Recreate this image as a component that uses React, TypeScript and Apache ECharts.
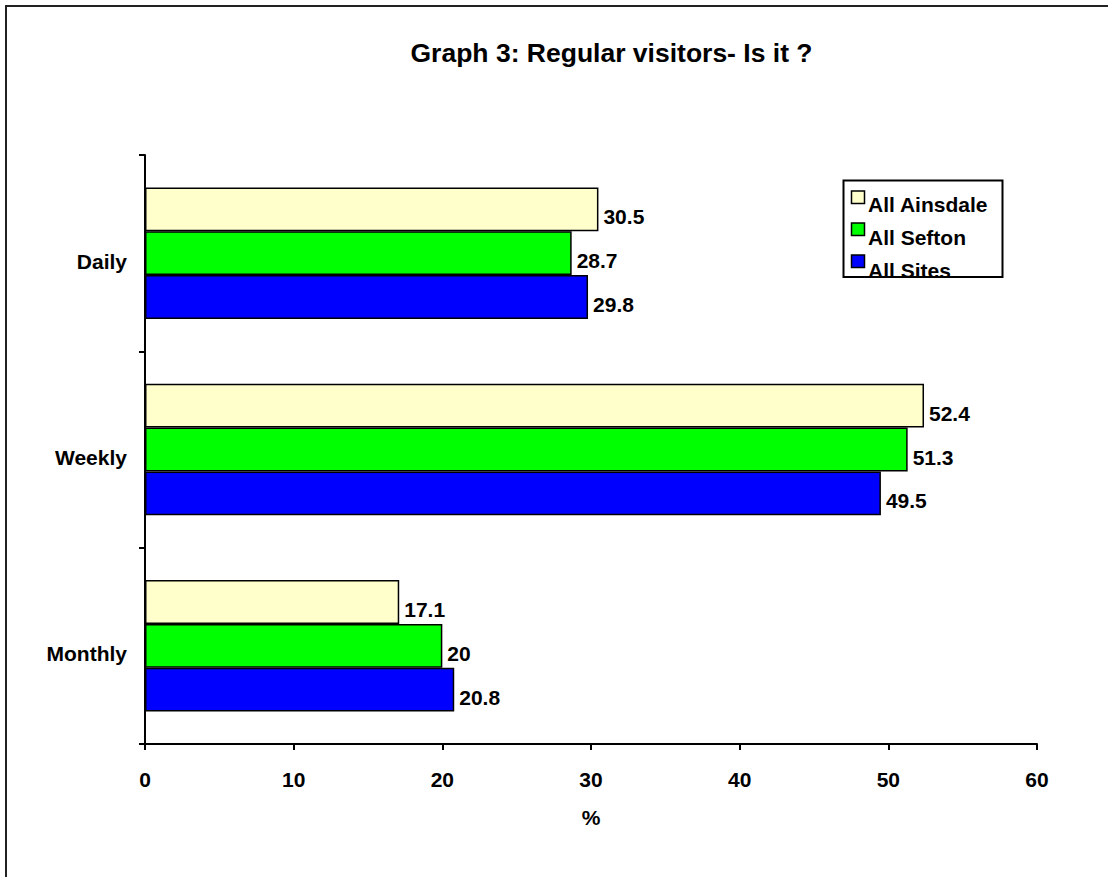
import React, { useEffect, useRef } from "react";
import * as echarts from "echarts";

const categories = ["Daily", "Weekly", "Monthly"];
const seriesNames = ["All Ainsdale", "All Sefton", "All Sites"];
const ainsdale = [30.5, 52.4, 17.1];
const sefton = [28.7, 51.3, 20];
const sites = [29.8, 49.5, 20.8];
const colors = ["#FFFFCC", "#00FF00", "#0000FF"];
const xTicks = { min: 0, max: 60, interval: 10 };
const titleText = "Graph 3: Regular visitors- Is it ?";
const xName = "%";

const FONT = "'Liberation Sans', Arial, sans-serif";

export default function App() {
  const ref = useRef<HTMLDivElement>(null);
  useEffect(() => {
    if (!ref.current) return;
    const chart = echarts.init(ref.current, undefined, { renderer: "svg" });
    const values = [ainsdale, sefton, sites];

    const legendX = 843.5;
    const legendY = 180.5;
    const legendW = 159;
    const legendH = 96.5;
    const legendItems: any[] = [];
    seriesNames.forEach((name, i) => {
      legendItems.push({
        type: "rect",
        shape: { x: legendX + 8, y: legendY + 10.5 + i * 32, width: 13, height: 12.5 },
        style: { fill: colors[i], stroke: "#000", lineWidth: 1.5 },
        z: 20,
      });
      legendItems.push({
        type: "text",
        x: legendX + 24.5,
        y: legendY + 34 + i * 33,
        style: {
          text: name,
          font: `bold 21px ${FONT}`,
          fill: "#000",
          textAlign: "left",
          textVerticalAlign: "bottom",
          verticalAlign: "bottom",
        },
        z: 20,
      });
    });

    chart.setOption({
      animation: false,
      backgroundColor: "#fff",
      textStyle: { fontFamily: FONT },
      legend: { show: false, data: seriesNames },
      graphic: [
        {
          type: "rect",
          shape: { x: 6, y: 6, width: 1200, height: 1000 },
          style: { fill: "none", stroke: "#222", lineWidth: 2 },
          silent: true,
          z: -10,
        },
        {
          type: "text",
          x: 611.5,
          y: 52.5,
          style: {
            text: titleText,
            font: `bold 26.5px ${FONT}`,
            fill: "#000",
            textAlign: "center",
            textVerticalAlign: "middle",
            verticalAlign: "middle",
          },
          z: 20,
        },
        {
          type: "rect",
          shape: { x: legendX, y: legendY, width: legendW, height: legendH },
          style: { fill: "#fff", stroke: "none" },
          z: 19,
        },
        ...legendItems,
        {
          type: "rect",
          shape: { x: legendX, y: legendY, width: legendW, height: legendH },
          style: { fill: "none", stroke: "#000", lineWidth: 2 },
          z: 21,
        },
      ],
      grid: { left: 145, right: 71, top: 155, bottom: 133, containLabel: false },
      xAxis: {
        type: "value",
        min: xTicks.min,
        max: xTicks.max,
        interval: xTicks.interval,
        name: xName,
        nameLocation: "middle",
        nameGap: 63,
        nameTextStyle: { fontFamily: FONT, fontWeight: "bold", fontSize: 21, color: "#000" },
        axisLine: { show: true, lineStyle: { color: "#000", width: 2 } },
        axisTick: { show: true, inside: false, length: 6, lineStyle: { color: "#000", width: 2 } },
        splitLine: { show: false },
        axisLabel: { fontFamily: FONT, fontWeight: "bold", fontSize: 21, color: "#000", margin: 25 },
      },
      yAxis: {
        type: "category",
        data: categories,
        inverse: true,
        axisLine: { show: true, lineStyle: { color: "#000", width: 2 } },
        axisTick: { show: true, inside: false, length: 6, lineStyle: { color: "#000", width: 2 } },
        splitLine: { show: false },
        axisLabel: {
          fontFamily: FONT,
          fontWeight: "bold",
          fontSize: 21,
          color: "#000",
          margin: 18,
          verticalAlign: "top",
          lineHeight: 16,
        },
      },
      series: seriesNames.map((name, i) => ({
        name,
        type: "bar",
        data: values[i],
        barGap: "0%",
        barCategoryGap: "33%",
        itemStyle: { color: colors[i], borderColor: "#000", borderWidth: 1.5 },
        label: {
          show: true,
          position: "right",
          distance: 5,
          offset: [0, 7.5],
          fontFamily: FONT,
          fontWeight: "bold",
          fontSize: 21,
          color: "#000",
        },
      })),
    });
    return () => chart.dispose();
  }, []);
  return (
    <div
      ref={ref}
      style={{ position: "absolute", left: 0, top: 0, width: 1108, height: 877 }}
    />
  );
}
